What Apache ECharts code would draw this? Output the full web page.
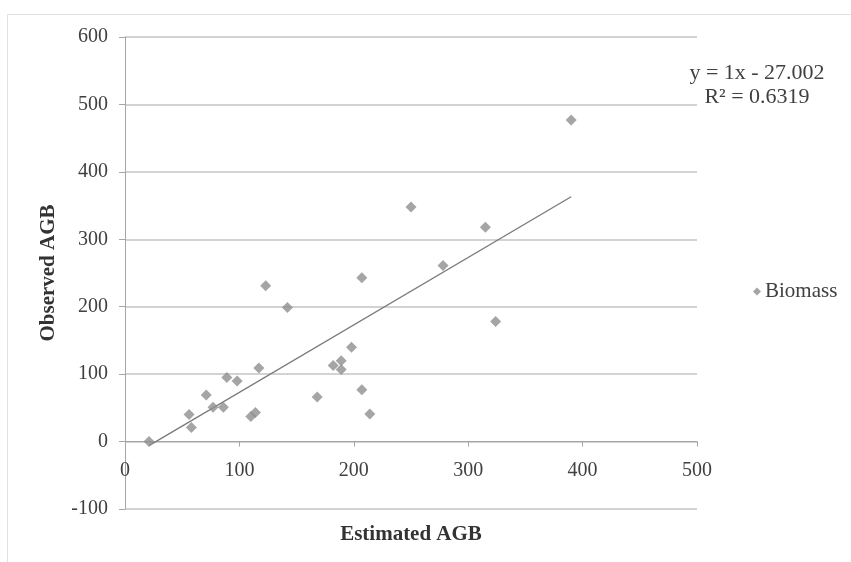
<!DOCTYPE html>
<html>
<head>
<meta charset="utf-8">
<script src="https://cdn.jsdelivr.net/npm/echarts@6/dist/echarts.min.js"></script>
<style>
html,body{margin:0;padding:0;background:#fff;}
#c{width:851px;height:562px;}
</style>
</head>
<body>
<div id="c"></div>
<script>
var estimatedAGB = [21, 56, 58, 71, 77, 86, 89, 98, 110, 114, 117, 123, 142, 168, 182, 189, 189, 198, 207, 214, 207, 250, 278, 315, 324, 390];
var observedAGB  = [0, 40, 21, 69, 51, 51, 95, 90, 37, 43, 109, 231, 199, 66, 113, 120, 107, 140, 77, 41, 243, 348, 261, 318, 178, 477];
var xTicks = [0, 100, 200, 300, 400, 500];
var yTicks = [-100, 0, 100, 200, 300, 400, 500, 600];
var trendSlope = 1;
var trendIntercept = -27.002;
var equationText = ['y = 1x - 27.002', 'R² = 0.6319'];
var seriesName = 'Biomass';

var points = estimatedAGB.map(function (x, i) { return [x, observedAGB[i]]; });
var xMin = Math.min.apply(null, estimatedAGB), xMax = Math.max.apply(null, estimatedAGB);
var trend = [[xMin, trendSlope * xMin + trendIntercept], [xMax, trendSlope * xMax + trendIntercept]];

var font = 'Liberation Serif';
var W = 851, H = 562;
var gridBox = { left: 125, right: 154, top: 37, bottom: 53 };
var yMin = yTicks[0], yMax = yTicks[yTicks.length - 1];
var gridH = H - gridBox.top - gridBox.bottom;
// lift the x axis from the bottom of the grid up to y = 0
var xAxisOffset = -gridH * (0 - yMin) / (yMax - yMin);

var chart = echarts.init(document.getElementById('c'));
chart.setOption({
  animation: false,
  backgroundColor: '#fff',
  textStyle: { fontFamily: font },
  grid: { left: gridBox.left, right: gridBox.right, top: gridBox.top, bottom: gridBox.bottom, containLabel: false, outerBoundsMode: 'none' },
  legend: {
    data: [{ name: seriesName, icon: 'diamond' }],
    left: 748, top: 276, itemWidth: 8, itemHeight: 8, itemGap: 4,
    textStyle: { fontFamily: font, fontSize: 21, color: '#404040', padding: [0,0,0,-1] }
  },
  xAxis: {
    type: 'value', min: xTicks[0], max: xTicks[xTicks.length - 1], interval: 100,
    position: 'bottom', offset: xAxisOffset,
    axisLine: { onZero: false, lineStyle: { color: '#a6a6a6', width: 1 } },
    axisTick: { show: true, length: 5, lineStyle: { color: '#a6a6a6' } },
    axisLabel: { fontFamily: font, fontSize: 20, color: '#404040', margin: 19 },
    splitLine: { show: false },
    name: 'Estimated AGB', nameLocation: 'middle', nameGap: 83,
    nameTextStyle: { fontFamily: font, fontSize: 21, fontWeight: 'bold', color: '#333', verticalAlign: 'top' }
  },
  yAxis: {
    type: 'value', min: yMin, max: yMax, interval: 100,
    axisLine: { show: true, onZero: false, lineStyle: { color: '#a6a6a6', width: 1 } },
    axisTick: { show: true, length: 6, lineStyle: { color: '#a6a6a6' } },
    axisLabel: { fontFamily: font, fontSize: 20, color: '#404040', margin: 17 },
    splitLine: { show: true, lineStyle: { color: '#c4c4c4', width: 1.5 } },
    name: 'Observed AGB', nameLocation: 'middle', nameGap: 66, nameRotate: 90,
    nameTextStyle: { fontFamily: font, fontSize: 21, fontWeight: 'bold', color: '#333' }
  },
  series: [
    {
      name: seriesName, type: 'scatter', data: points,
      symbol: 'diamond', symbolSize: 11,
      itemStyle: { color: '#8e8e8e' }, z: 3
    },
    {
      name: 'trend', type: 'line', data: trend, showSymbol: false, symbol: 'none',
      lineStyle: { color: '#7a7a7a', width: 1.3 }, z: 2, silent: true
    }
  ],
  graphic: [
    { type: 'rect', shape: { x: 7.5, y: 14.5, width: 900, height: 600 },
      style: { fill: 'none', stroke: '#e2e2e2', lineWidth: 1 }, z: -1, silent: true },
    { type: 'text', x: 757, y: 62,
      style: { text: equationText[0], font: '22px "Liberation Serif"', fill: '#404040', textAlign: 'center' } },
    { type: 'text', x: 757, y: 86,
      style: { text: equationText[1], font: '22px "Liberation Serif"', fill: '#404040', textAlign: 'center' } }
  ]
});
</script>
</body>
</html>
